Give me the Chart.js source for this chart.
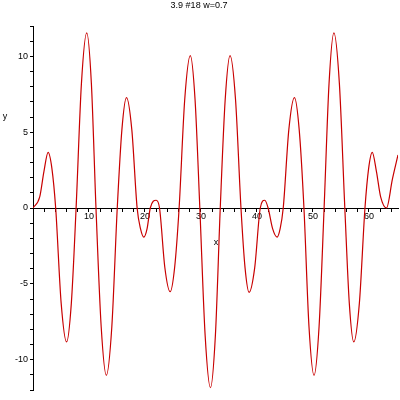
<!DOCTYPE html>
<html>
<head>
<meta charset="utf-8">
<script src="https://cdn.jsdelivr.net/npm/chart.js@4.4.0/dist/chart.umd.min.js"></script>
<style>
html,body{margin:0;padding:0;background:#fff;}
#wrap{width:400px;height:400px;}
</style>
</head>
<body>
<div id="wrap"><canvas id="c" width="400" height="400"></canvas></div>
<script>
const titleText = "3.9 #18 w=0.7";
const xLabel = "x";
const yLabel = "y";
const xs = [0, 1.2, 1.95, 2.7, 3.38, 4.05, 5.03, 6.0, 6.85, 7.7, 8.65, 9.6, 10.43, 11.25, 12.18, 13.1, 14.08, 15.05, 15.88, 16.7, 17.65, 18.6, 19.2, 19.8, 20.38, 20.95, 22.0, 22.6, 23.55, 24.5, 25.3, 26.1, 27.1, 28.1, 28.95, 29.8, 30.75, 31.7, 32.58, 33.45, 34.33, 35.2, 36.18, 37.15, 37.88, 38.6, 39.6, 40.6, 41.4, 42.0, 42.8, 43.6, 44.15, 44.7, 45.7, 46.7, 47.55, 48.4, 49.3, 50.2, 51.1, 52.0, 52.88, 53.75, 54.73, 55.7, 56.5, 57.3, 58.3, 59.3, 59.95, 60.6, 61.35, 62.1, 63.15, 64.2, 65.2];
const ys = [0, 0.73, 2.4, 3.67, 2.6, 0, -6.27, -8.83, -6.27, 0, 8.2, 11.55, 8.2, 0, -7.83, -11.03, -7.83, 0, 5.17, 7.28, 5.17, 0, -1.36, -1.92, -1.36, 0, 0.51, 0, -3.92, -5.52, -3.92, 0, 7.14, 10.05, 7.14, 0, -8.41, -11.85, -8.41, 0, 7.14, 10.05, 7.14, 0, -3.95, -5.56, -3.95, 0, 0.51, 0, -1.36, -1.92, -1.36, 0, 5.17, 7.28, 5.17, 0, -7.83, -11.03, -7.83, 0, 8.2, 11.55, 8.2, 0, -6.27, -8.83, -6.27, 0, 2.6, 3.67, 2.4, 0.73, 0, 1.9, 3.5];
const xTicks = [0, 2, 4, 6, 8, 10, 12, 14, 16, 18, 20, 22, 24, 26, 28, 30, 32, 34, 36, 38, 40, 42, 44, 46, 48, 50, 52, 54, 56, 58, 60, 62, 64];
const xTickLabels = [10, 20, 30, 40, 50, 60];
const yTicks = [-12, -11, -10, -9, -8, -7, -6, -5, -4, -3, -2, -1, 0, 1, 2, 3, 4, 5, 6, 7, 8, 9, 10, 11, 12];
const yTickLabels = [-10, -5, 0, 5, 10];

const FONT = "'Liberation Sans', Arial, sans-serif";

const axisTitles = {
  id: 'axisTitles',
  afterDraw(chart) {
    const ctx = chart.ctx;
    const xs_ = chart.scales.x, ys_ = chart.scales.y;
    ctx.save();
    ctx.fillStyle = '#000';
    ctx.font = '9px ' + FONT;
    ctx.textAlign = 'center';
    ctx.textBaseline = 'middle';
    ctx.fillText(xLabel, xs_.getPixelForValue(32.7), ys_.getPixelForValue(0) + 35);
    ctx.fillText(yLabel, 5, ys_.getPixelForValue(6.0));
    ctx.restore();
  }
};

new Chart(document.getElementById('c'), {
  type: 'line',
  data: {
    datasets: [{
      data: xs.map((x, i) => ({x: x, y: ys[i]})),
      borderColor: '#c80000',
      borderWidth: 1.2,
      pointRadius: 0,
      fill: false,
      cubicInterpolationMode: 'monotone'
    }]
  },
  options: {
    responsive: false,
    animation: false,
    events: [],
    layout: {padding: {left: 0, right: 2, top: 0, bottom: 10}},
    plugins: {
      legend: {display: false},
      tooltip: {enabled: false},
      title: {
        display: true,
        text: titleText,
        color: '#000',
        font: {family: FONT, size: 9, weight: 'normal', lineHeight: 1.2},
        padding: {top: 0, bottom: 15.2}
      }
    },
    scales: {
      x: {
        type: 'linear',
        position: {y: 0},
        min: 0,
        max: 65.2,
        afterBuildTicks: (s) => { s.ticks = xTicks.map(v => ({value: v})); },
        ticks: {
          color: '#000',
          font: {family: FONT, size: 9},
          padding: 0,
          maxRotation: 0,
          autoSkip: false,
          callback: (v) => xTickLabels.includes(v) ? String(v) : ''
        },
        grid: {display: true, drawOnChartArea: false, drawTicks: true, tickLength: 3, color: '#000'},
        border: {display: true, color: '#000', width: 1}
      },
      y: {
        type: 'linear',
        position: 'left',
        min: -12,
        max: 12,
        afterBuildTicks: (s) => { s.ticks = yTicks.map(v => ({value: v})); },
        afterFit: (s) => { s.width = 33; },
        ticks: {
          color: '#000',
          font: {family: FONT, size: 9},
          padding: 2,
          autoSkip: false,
          callback: (v) => yTickLabels.includes(v) ? String(v) : ''
        },
        grid: {display: true, drawOnChartArea: false, drawTicks: true, tickLength: 3, color: '#000'},
        border: {display: true, color: '#000', width: 1}
      }
    }
  },
  plugins: [axisTitles]
});
</script>
</body>
</html>
